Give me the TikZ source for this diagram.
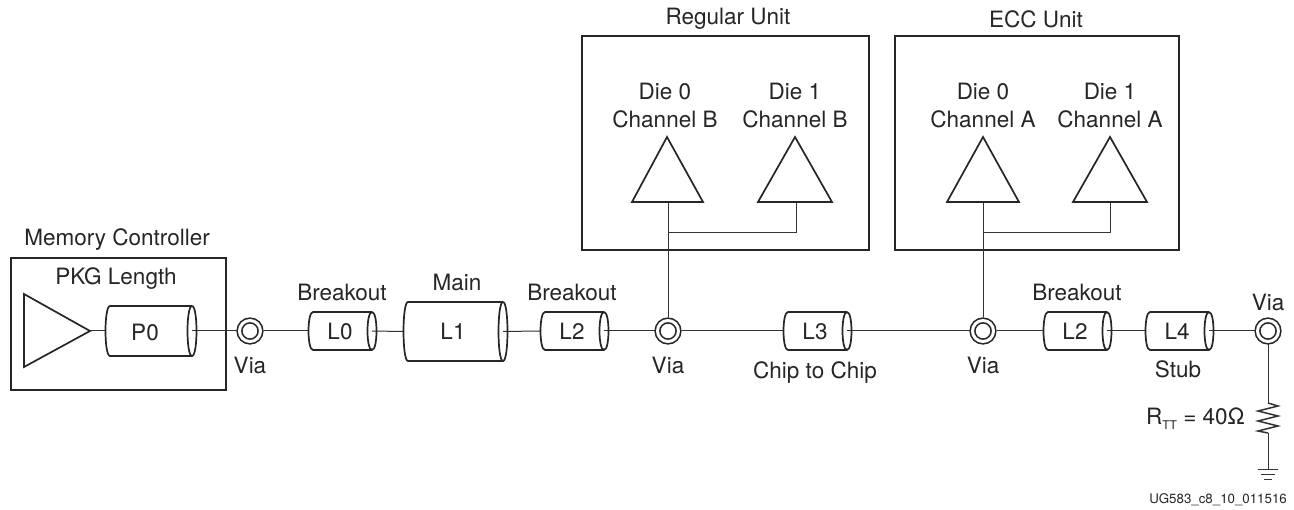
\documentclass[tikz,border=0pt]{standalone}
\usepackage{fontspec}
\setmainfont{TeX Gyre Heros}
\newcommand{\cablebody}[1]{%
\draw[cableline] (#1.north east) -- ([xshift=5pt]#1.north west) .. controls ([xshift=-1pt]#1.north west) and ([xshift=-1pt]#1.south west) .. ([xshift=5pt]#1.south west) -- (#1.south east);
\draw[cableline] (#1.north east) .. controls ([xshift=6pt]#1.north east) and ([xshift=6pt]#1.south east) .. (#1.south east) .. controls ([xshift=-6pt]#1.south east) and ([xshift=-6pt]#1.north east) .. (#1.north east);
}
\tikzset{
  cableline/.style={line width=1.7pt,color=black!85},
  boxline/.style={line width=2pt,color=black!85},
  wire/.style={line width=1pt,color=black!80},
  cable/.style={inner sep=0pt,outer sep=0pt,minimum width=64pt,minimum height=38pt,color=black!85,font=\fontsize{22.5}{27}\selectfont},
  via/.style={circle,draw=black!85,line width=1.6pt,double,double distance=3pt,inner sep=0pt,minimum size=21pt,outer sep=3pt},
  lbl/.style={inner sep=0pt,color=black!85,font=\fontsize{22.5}{28}\selectfont,align=center},
}
\begin{document}
\begin{tikzpicture}[x=1pt,y=-1pt]
\useasboundingbox (0,0) rectangle (1294,510);
\fill[white] (0,0) rectangle (1294,510);
\draw[boxline] (11,258) rectangle (226,390);
\draw[boxline] (582,36) rectangle (869,250);
\draw[boxline] (895,36) rectangle (1179,250);
\node[lbl] (memctl) at (117,240) {Memory Controller};
\node[lbl] (pkg) at (116,279) {PKG Length};
\node[lbl] (regular) at (728,19) {Regular Unit};
\node[lbl] (ecc) at (1036,19) {ECC Unit};
\node[cable,minimum width=87pt,minimum height=50pt] (P0) at (148.5,331) {};
\node[lbl] (P0text) at (145,332) {P0};
\node[cable] (L0) at (340,331) {L0};
\node[cable,minimum width=100pt,minimum height=59pt] (L1) at (453,331.5) {L1};
\node[cable] (L2a) at (572,331) {L2};
\node[cable] (L3) at (815,331) {L3};
\node[cable] (L2b) at (1075,331) {L2};
\node[cable] (L4) at (1177,331) {L4};
\node[via] (V0) at (250,331) {};
\node[via] (V1) at (668,331) {};
\node[via] (V2) at (983,331) {};
\node[via] (V3) at (1268,331) {};
\coordinate (drv) at (90,331);
\coordinate (die0b) at (668,202);
\coordinate (die1b) at (796,202);
\coordinate (die0a) at (983,202);
\coordinate (die1a) at (1110,202);
\coordinate (joinb) at (668,233);
\coordinate (joina) at (983,233);
\coordinate (rtop) at (1268,403);
\coordinate (rbot) at (1268,433);
\coordinate (gnd) at (1268,470);
\draw[wire] (drv) -- (P0.west);
\draw[wire] (P0.east) -- (V0);
\draw[wire] (V0) -- (L0);
\draw[wire] (L0.east) -- (L1.west);
\draw[wire] (L1.east) -- (L2a.west);
\draw[wire] (L2a.east) -- (V1);
\draw[wire] (V1) -- (L3);
\draw[wire] (L3.east) -- (V2);
\draw[wire] (V2) -- (L2b);
\draw[wire] (L2b.east) -- (L4.west);
\draw[wire] (L4.east) -- (V3);
\draw[wire] (V1) -- (die0b);
\draw[wire] (V2) -- (die0a);
\draw[wire] (joinb) -| (die1b);
\draw[wire] (joina) -| (die1a);
\draw[wire] (V3) -- (rtop);
\draw[wire,line width=1.5pt] (rtop) -- ++(10,3) -- ++(-20,5) -- ++(20,5) -- ++(-20,5) -- ++(20,5) -- ++(-20,5) -- (rbot);
\draw[wire] (rbot) -- (gnd);
\draw[wire] ([xshift=-10pt]gnd) -- ([xshift=10pt]gnd);
\draw[wire] ([xshift=-7pt,yshift=-5pt]gnd) -- ([xshift=7pt,yshift=-5pt]gnd);
\draw[wire] ([xshift=-4pt,yshift=-10pt]gnd) -- ([xshift=4pt,yshift=-10pt]gnd);
\cablebody{P0}
\cablebody{L0}
\cablebody{L1}
\cablebody{L2a}
\cablebody{L3}
\cablebody{L2b}
\cablebody{L4}
\draw[cableline] (24,294) -- (90,331) -- (24,367) -- cycle;
\draw[cableline] (632,202) -- (667,137) -- (703,202) -- cycle;
\draw[cableline] (758,202) -- (795,137) -- (832,202) -- cycle;
\draw[cableline] (947,202) -- (983,137) -- (1019,202) -- cycle;
\draw[cableline] (1073,202) -- (1110,137) -- (1147,202) -- cycle;
\node[lbl] (die0bt) at (665,106) {Die 0\\Channel B};
\node[lbl] (die1bt) at (795,106) {Die 1\\Channel B};
\node[lbl] (die0at) at (983,106) {Die 0\\Channel A};
\node[lbl] (die1at) at (1110,106) {Die 1\\Channel A};
\node[lbl] (via0) at (250,365) {Via};
\node[lbl] (via1) at (668,365) {Via};
\node[lbl] (via2) at (983,365) {Via};
\node[lbl] (via3) at (1268,302) {Via};
\node[lbl] (brk0) at (342,292) {Breakout};
\node[lbl] (main) at (457,282) {Main};
\node[lbl] (brk1) at (572,292) {Breakout};
\node[lbl] (brk2) at (1077,292) {Breakout};
\node[lbl] (chip) at (815,373) {Chip to Chip};
\node[lbl] (stub) at (1178,369) {Stub};
\node[lbl,anchor=east] (rtt) at (1245,419) {R\raisebox{-5pt}{\fontsize{12}{12}\selectfont TT} = 40Ω};
\node[inner sep=0pt,color=black!85,font=\fontsize{13.3}{15}\selectfont,anchor=east] (ug) at (1287,500) {UG583\_c8\_10\_011516};
\end{tikzpicture}
\end{document}
